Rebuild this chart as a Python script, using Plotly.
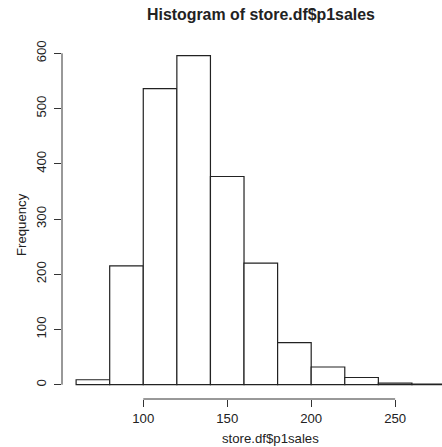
import plotly.graph_objects as go

# Histogram bins (lower edges) and frequencies
bin_starts = [60, 80, 100, 120, 140, 160, 180, 200, 220, 240, 260]
bin_width = 20
frequencies = [9, 215, 536, 596, 377, 220, 76, 32, 13, 3, 1]

x_tickvals = [100, 150, 200, 250]
y_tickvals = [0, 100, 200, 300, 400, 500, 600]

title_text = "Histogram of store.df$p1sales"
x_label = "store.df$p1sales"
y_label = "Frequency"

centers = [s + bin_width / 2 for s in bin_starts]

FONT = "Liberation Sans, Arial, Helvetica, sans-serif"

fig = go.Figure()
fig.add_trace(go.Bar(
    x=centers,
    y=frequencies,
    width=[bin_width] * len(centers),
    marker=dict(color="white", line=dict(color="#222222", width=1.2)),
    hoverinfo="skip",
))

fig.update_layout(
    width=442,
    height=447,
    margin=dict(l=62, r=0, t=42, b=48, autoexpand=False),
    paper_bgcolor="white",
    plot_bgcolor="white",
    showlegend=False,
    font=dict(family=FONT, size=13.2, color="#222222"),
    xaxis=dict(
        range=[51.6, 277.9],
        tickvals=x_tickvals,
        ticktext=[str(v) for v in x_tickvals],
        ticks="outside",
        ticklen=7,
        tickwidth=1,
        tickcolor="#333333",
        showgrid=False,
        zeroline=False,
        showline=False,
        automargin=False,
        tickfont=dict(size=13.2),
    ),
    yaxis=dict(
        range=[-25.9, 620.5],
        tickvals=y_tickvals,
        ticktext=[str(v) for v in y_tickvals],
        ticks="outside",
        ticklen=7,
        tickwidth=1,
        tickcolor="#333333",
        tickangle=-90,
        showgrid=False,
        zeroline=False,
        showline=False,
        automargin=False,
        ticklabelstandoff=3,
        tickfont=dict(size=13.2),
    ),
    shapes=[
        dict(type="line", xref="paper", yref="y", x0=0, x1=0,
             y0=y_tickvals[0], y1=y_tickvals[-1],
             line=dict(color="#333333", width=1)),
        dict(type="line", xref="x", yref="paper", x0=x_tickvals[0], x1=x_tickvals[-1],
             y0=0, y1=0, line=dict(color="#333333", width=1)),
    ],
    annotations=[
        dict(text="<b>" + title_text + "</b>", xref="paper", yref="paper",
             x=(261 - 62) / 380, y=1 + (42 - 14) / 357, xanchor="center", yanchor="middle",
             showarrow=False, font=dict(size=15.9, color="#222222")),
        dict(text=x_label, xref="paper", yref="paper",
             x=(270 - 62) / 380, y=-(438 - 399) / 357, xanchor="center", yanchor="middle",
             showarrow=False, font=dict(size=13.2, color="#222222")),
        dict(text=y_label, xref="paper", yref="paper", textangle=-90,
             x=-(62 - 22) / 380, y=(399 - 225) / 357, xanchor="center", yanchor="middle",
             showarrow=False, font=dict(size=13.2, color="#222222")),
    ],
)

fig.write_html(
    "out.html",
    config={"displayModeBar": False, "staticPlot": True},
    post_script="document.body.style.margin='0px';document.body.style.overflow='hidden';",
)
